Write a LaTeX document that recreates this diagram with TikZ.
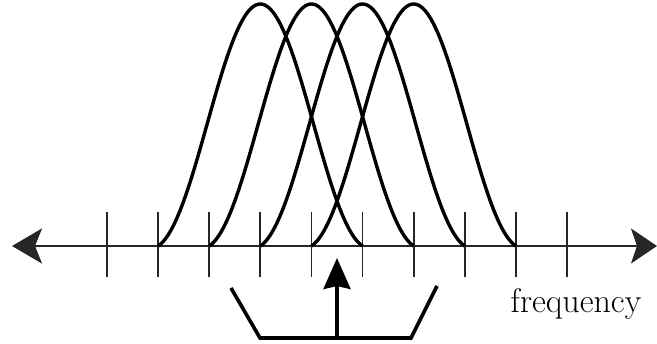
\documentclass[tikz,border=0pt]{standalone}
\usetikzlibrary{arrows.meta}
\begin{document}
\begin{tikzpicture}[x=1pt,y=-1pt,
  axisline/.style={line width=2pt,black!85},
  tickline/.style={line width=1.8pt,black!85},
  bump/.style={line width=3.4pt,line join=round},
  bracketline/.style={line width=3.6pt,line join=miter},
  uparrow/.style={line width=3.6pt,-{Stealth[length=31pt,width=27pt,inset=3pt]}},
  lbl/.style={inner sep=0pt,anchor=base,font=\fontsize{34}{40}\selectfont}]
\useasboundingbox (0,0) rectangle (657,344);
% axis
\coordinate (L) at (12,246);
\coordinate (R) at (657,246);
\draw[axisline,{Stealth[length=30pt,width=35pt,inset=7pt]}-{Stealth[length=26pt,width=35pt,inset=6pt]}] (L) -- (R);
% ticks
\foreach \i in {0,...,9}{
  \coordinate (t\i a) at ({107+51.11*\i},212);
  \coordinate (t\i b) at ({107+51.11*\i},277);
  \draw[tickline] (t\i a) -- (t\i b);
}
% bumps
\foreach \k in {3,4,5,6}{
  \pgfmathsetmacro{\c}{107+51.11*\k}
  \coordinate (s\k) at ({\c-102.2},246);
  \coordinate (e\k) at ({\c+102.2},246);
  \draw[bump] plot[domain=-1:1,samples=141,smooth] ({\c+102.2*\x},{246-242*(sin(90*(1-abs(\x)))^2+0.28*(1-abs(\x))*abs(\x)^2)});
}
% bracket and arrow
\coordinate (b1) at (231,288);
\coordinate (b2) at (260,338);
\coordinate (b3) at (411,338);
\coordinate (b4) at (437,286);
\coordinate (ab) at (337,338);
\coordinate (at) at (337,258);
\draw[bracketline] (b1) -- (b2) -- (b3) -- (b4);
\draw[uparrow] (ab) -- (at);
% label
\node[lbl] (freq) at (576,313) {frequency};
\end{tikzpicture}
\end{document}
